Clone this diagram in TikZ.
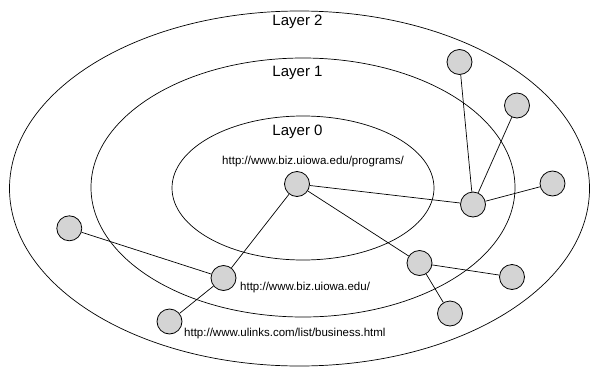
\documentclass[tikz,border=0pt]{standalone}
\usepackage{fontspec}
\setmainfont{Liberation Sans}
\begin{document}
\begin{tikzpicture}[x=1pt,y=-1pt,
  site/.style={circle,draw=black,fill=black!17,line width=0.8pt,minimum size=25pt,inner sep=0pt},
  ring/.style={draw=black,line width=0.7pt},
  link/.style={draw=black,line width=0.7pt},
  layerlbl/.style={font=\fontsize{15}{15}\selectfont,inner sep=0pt,anchor=base},
  url/.style={font=\fontsize{11.5}{11.5}\selectfont,inner sep=0pt,anchor=base}]
\useasboundingbox (0,0) rectangle (592,367);
\draw[ring] (299.5,188.5) ellipse [x radius=290,y radius=177.5];
\draw[ring] (303,187.5) ellipse [x radius=212,y radius=129.5];
\draw[ring] (303,188) ellipse [x radius=131,y radius=72];
\node[layerlbl] (l2) at (297.5,25.7) {Layer 2};
\node[layerlbl] (l1) at (297.5,76) {Layer 1};
\node[layerlbl] (l0) at (297.5,135) {Layer 0};
\node[url] (u0) at (313,164) {http://www.biz.uiowa.edu/programs/};
\node[url,anchor=base west] (u1) at (240,290) {http://www.biz.uiowa.edu/};
\node[url,anchor=base west] (u2) at (184,336) {http://www.ulinks.com/list/business.html};
\node[site] (p) at (297,184) {};
\node[site] (biz) at (223.5,278) {};
\node[site] (ul) at (169.5,321.5) {};
\node[site] (lf) at (69.3,228.3) {};
\node[site] (hub) at (473,204.5) {};
\node[site] (t1) at (459.5,62) {};
\node[site] (t2) at (517,105.5) {};
\node[site] (r3) at (552.5,183.5) {};
\node[site] (lh) at (419.5,263) {};
\node[site] (lo1) at (512,277) {};
\node[site] (lo2) at (450,313.5) {};
\draw[link] (p) -- (hub);
\draw[link] (p) -- (lh);
\draw[link] (p) -- (biz);
\draw[link] (biz) -- (lf);
\draw[link] (biz) -- (ul);
\draw[link] (hub) -- (t1);
\draw[link] (hub) -- (t2);
\draw[link] (hub) -- (r3);
\draw[link] (lh) -- (lo1);
\draw[link] (lh) -- (lo2);
\end{tikzpicture}
\end{document}
